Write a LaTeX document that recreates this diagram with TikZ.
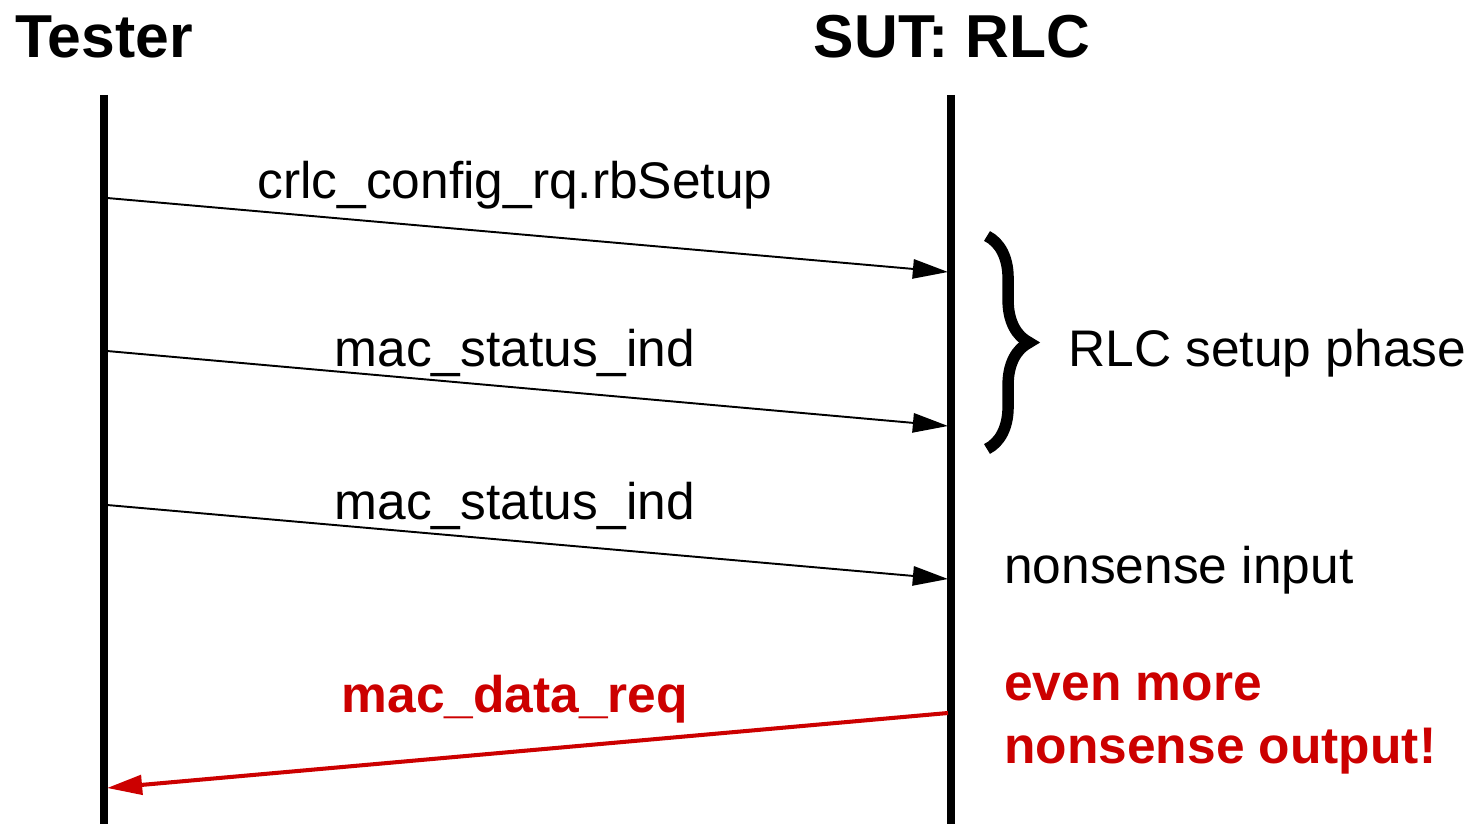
\documentclass[tikz,border=0pt]{standalone}
\usepackage{fontspec}
\setmainfont{Liberation Sans}
\usetikzlibrary{arrows.meta, decorations.pathreplacing}
\definecolor{errred}{RGB}{204,0,0}
\tikzset{
	lifeline/.style={line width=4pt},
	headtext/.style={font=\fontsize{34.5}{40}\selectfont\bfseries, anchor=base, inner sep=0pt},
	msgtext/.style={font=\fontsize{29.3}{35}\selectfont, anchor=base, inner sep=0pt},
	notetext/.style={msgtext, anchor=base west},
	errtext/.style={msgtext, anchor=base west, text=errred, font=\fontsize{29.3}{35}\selectfont\bfseries}
}
\tikzset{
	msg/.style={line width=1.1pt, -{Triangle[length=20pt, width=11pt]}},
	errmsg/.style={line width=2.3pt, draw=errred, -{Triangle[length=20pt, width=11pt]}}
}

\begin{document}
\begin{tikzpicture}[x=0.02cm, y=-0.02cm]
      \useasboundingbox (0,0) rectangle (1471,824);

      % the two lifelines
      \node[headtext] (tester) at (104,58) {Tester};
      \node[headtext] (sut) at (952,58) {SUT: RLC};
      \coordinate (tTop) at (104,95);
      \coordinate (tBot) at (104,824);
      \coordinate (sTop) at (951,95);
      \coordinate (sBot) at (951,824);
      \draw[lifeline] (tTop) -- (tBot);
      \draw[lifeline] (sTop) -- (sBot);

      % messages from the tester into the RLC
      \coordinate (m1a) at (107,198);
      \coordinate (m1b) at (948,272);
      \coordinate (m2a) at (107,351);
      \coordinate (m2b) at (948,426);
      \coordinate (m3a) at (107,505);
      \coordinate (m3b) at (948,579);
      \draw[msg] (m1a) -- (m1b);
      \draw[msg] (m2a) -- (m2b);
      \draw[msg] (m3a) -- (m3b);
      \node[msgtext] (m1txt) at (515,199) {crlc\_config\_rq.rbSetup};
      \node[msgtext] (m2txt) at (515,366) {mac\_status\_ind};
      \node[msgtext] (m3txt) at (515,519) {mac\_status\_ind};

      % answer going back, in red
      \coordinate (r1a) at (948,713);
      \coordinate (r1b) at (107,788);
      \draw[errmsg] (r1a) -- (r1b);
      \node[msgtext, text=errred, font=\fontsize{29.3}{35}\selectfont\bfseries] (r1txt) at (515,712) {mac\_data\_req};

      % brace over the setup messages
      \coordinate (brTop) at (987,236);
      \coordinate (brBot) at (987,449);
      \draw[decorate, decoration={brace, amplitude=24pt, aspect=0.5}, line width=6.5pt] (brTop) -- (brBot);
      \node[notetext] (phase) at (1068,366) {RLC setup phase};

      \node[notetext] (junk) at (1004,583) {nonsense input};
      \node[errtext] (junkout1) at (1004,700) {even more};
      \node[errtext] (junkout2) at (1004,763) {nonsense output!};
\end{tikzpicture}
\end{document}
